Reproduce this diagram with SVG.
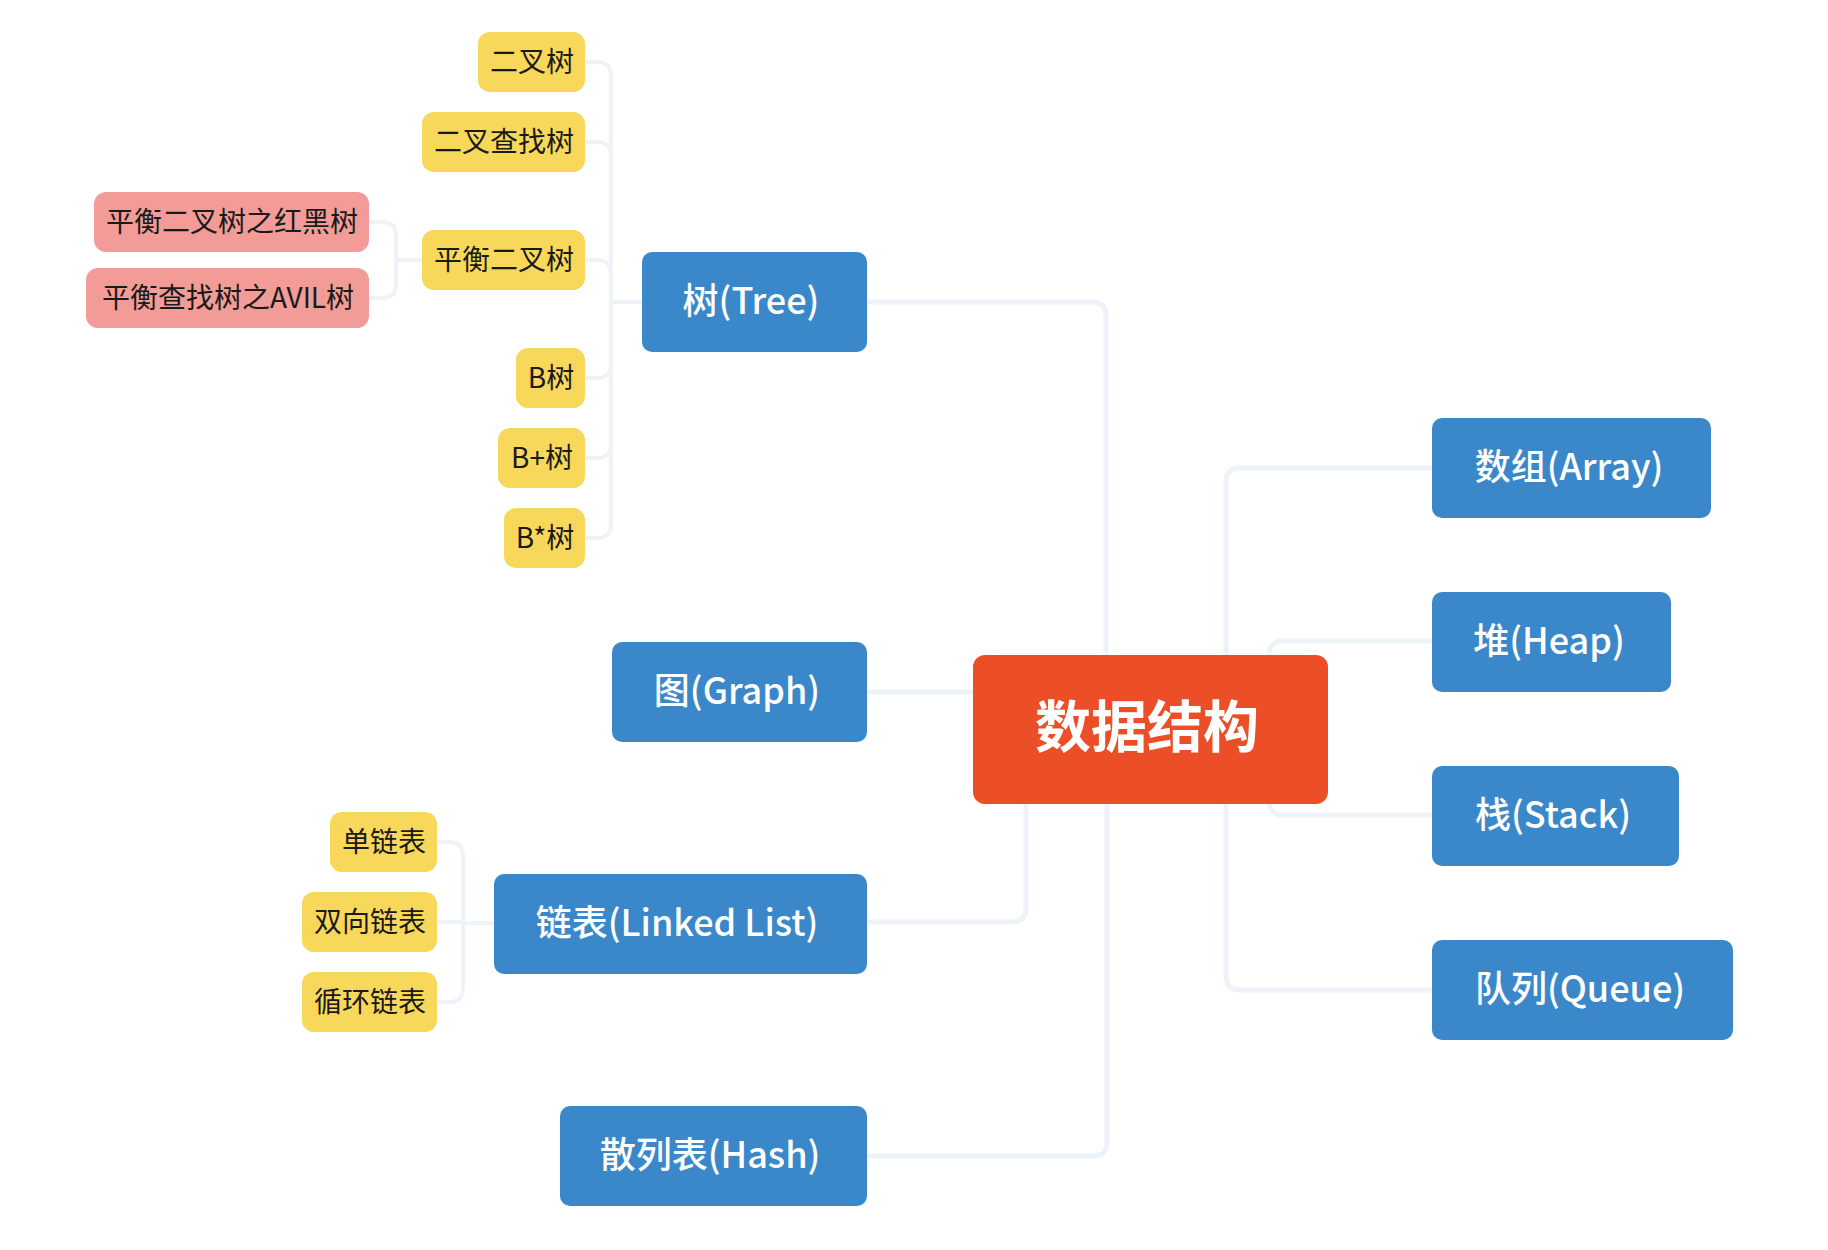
<svg xmlns="http://www.w3.org/2000/svg" width="1828" height="1250" viewBox="0 0 1828 1250">
<style>
.bg{fill:#ffffff}
.c{fill:none;stroke:#EDF3F9;stroke-width:5;stroke-linecap:round;stroke-linejoin:round}
.cs{fill:none;stroke:#EDF3F9;stroke-width:4;stroke-linecap:round;stroke-linejoin:round}
.blue rect{fill:#3A88C9}
.root rect{fill:#EC4F27}
.yel rect{fill:#F7D85B}
.pink rect{fill:#F29B97}
.tb{font-family:"Noto Sans CJK SC","Noto Sans",sans-serif;font-size:36px;font-weight:500;fill:#ffffff;text-anchor:middle}
.tr{font-family:"Noto Sans CJK SC","Noto Sans",sans-serif;font-size:56px;font-weight:700;fill:#ffffff;text-anchor:middle}
.ts{font-family:"Noto Sans CJK SC","Noto Sans",sans-serif;font-size:28px;font-weight:400;fill:#1a1a1a;text-anchor:middle}
</style>
<rect class="bg" x="0" y="0" width="1828" height="1250"/>
<g id="connectors">
  <!-- tree children -->
  <path class="cs" d="M585,62 H597 Q611,62 611,76 V302"/>
  <path class="cs" d="M585,142 H597 Q611,142 611,156 V302"/>
  <path class="cs" d="M585,260 H597 Q611,260 611,274 V302"/>
  <path class="cs" d="M585,378 H597 Q611,378 611,364 V302"/>
  <path class="cs" d="M585,458 H597 Q611,458 611,444 V302"/>
  <path class="cs" d="M585,538 H597 Q611,538 611,524 V302"/>
  <path class="cs" d="M611,302 H642"/>
  <!-- balanced tree children -->
  <path class="cs" d="M369,222 H382 Q396,222 396,236 V260"/>
  <path class="cs" d="M369,298 H382 Q396,298 396,284 V260"/>
  <path class="cs" d="M396,260 H422"/>
  <!-- linked list children -->
  <path class="cs" d="M437,842 H449 Q463,842 463,856 V923"/>
  <path class="cs" d="M437,922 H463"/>
  <path class="cs" d="M437,1002 H449 Q463,1002 463,988 V923"/>
  <path class="cs" d="M463,923 H494"/>
  <!-- root to main -->
  <path class="c" d="M867,302 H1092 Q1106,302 1106,316 V730"/>
  <path class="c" d="M867,692 H973"/>
  <path class="c" d="M867,922 H1012 Q1026,922 1026,908 V730"/>
  <path class="c" d="M867,1156 H1093 Q1107,1156 1107,1142 V730"/>
  <path class="c" d="M1432,468 H1240 Q1226,468 1226,482 V730"/>
  <path class="c" d="M1432,990 H1240 Q1226,990 1226,976 V730"/>
  <path class="c" d="M1432,641 H1283 Q1269,641 1269,655 V730"/>
  <path class="c" d="M1432,815 H1283 Q1269,815 1269,801 V730"/>
</g>
<g id="root" class="root"><rect x="973" y="655" width="355" height="149" rx="12"/><text class="tr" x="1147" y="747">数据结构</text></g>
<g id="tree" class="blue"><rect x="642" y="252" width="225" height="100" rx="10"/><text class="tb" x="751" y="314">树(Tree)</text></g>
<g id="graph" class="blue"><rect x="612" y="642" width="255" height="100" rx="10"/><text class="tb" x="737" y="704">图(Graph)</text></g>
<g id="linkedlist" class="blue"><rect x="494" y="874" width="373" height="100" rx="10"/><text class="tb" x="677" y="936">链表(Linked List)</text></g>
<g id="hash" class="blue"><rect x="560" y="1106" width="307" height="100" rx="10"/><text class="tb" x="710" y="1168">散列表(Hash)</text></g>
<g id="array" class="blue"><rect x="1432" y="418" width="279" height="100" rx="10"/><text class="tb" x="1569" y="480">数组(Array)</text></g>
<g id="heap" class="blue"><rect x="1432" y="592" width="239" height="100" rx="10"/><text class="tb" x="1549" y="654">堆(Heap)</text></g>
<g id="stack" class="blue"><rect x="1432" y="766" width="247" height="100" rx="10"/><text class="tb" x="1553" y="828">栈(Stack)</text></g>
<g id="queue" class="blue"><rect x="1432" y="940" width="301" height="100" rx="10"/><text class="tb" x="1580" y="1002">队列(Queue)</text></g>
<g id="bintree" class="yel"><rect x="478" y="32" width="107" height="60" rx="12"/><text class="ts" x="532" y="72">二叉树</text></g>
<g id="bst" class="yel"><rect x="422" y="112" width="163" height="60" rx="12"/><text class="ts" x="504" y="152">二叉查找树</text></g>
<g id="avl" class="yel"><rect x="422" y="230" width="163" height="60" rx="12"/><text class="ts" x="504" y="270">平衡二叉树</text></g>
<g id="btree" class="yel"><rect x="516" y="348" width="69" height="60" rx="12"/><text class="ts" x="551" y="388">B树</text></g>
<g id="bplustree" class="yel"><rect x="498" y="428" width="87" height="60" rx="12"/><text class="ts" x="542" y="468">B+树</text></g>
<g id="bstartree" class="yel"><rect x="504" y="508" width="81" height="60" rx="12"/><text class="ts" x="545" y="548">B*树</text></g>
<g id="rbtree" class="pink"><rect x="94" y="192" width="275" height="60" rx="12"/><text class="ts" x="232" y="232">平衡二叉树之红黑树</text></g>
<g id="aviltree" class="pink"><rect x="86" y="268" width="283" height="60" rx="12"/><text class="ts" x="228" y="308">平衡查找树之AVIL树</text></g>
<g id="singly" class="yel"><rect x="330" y="812" width="107" height="60" rx="12"/><text class="ts" x="384" y="852">单链表</text></g>
<g id="doubly" class="yel"><rect x="302" y="892" width="135" height="60" rx="12"/><text class="ts" x="370" y="932">双向链表</text></g>
<g id="circular" class="yel"><rect x="302" y="972" width="135" height="60" rx="12"/><text class="ts" x="370" y="1012">循环链表</text></g>
</svg>
